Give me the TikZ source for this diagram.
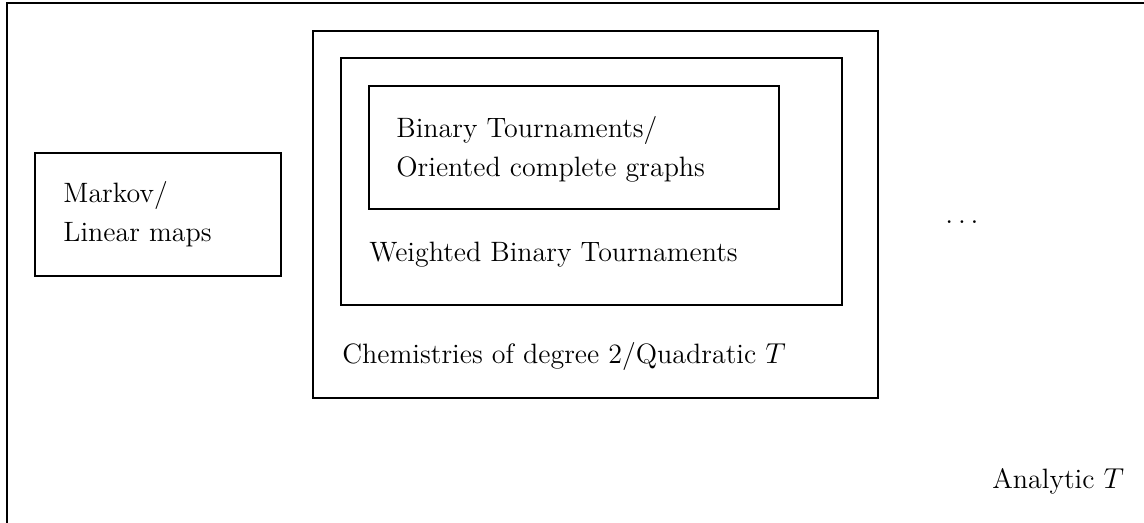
\documentclass[tikz,border=0pt]{standalone}
\usepackage{amsmath}
\usepackage{tikz}
\usetikzlibrary{calc}

\newcommand{\diagfont}{\fontsize{14}{19.5}\selectfont}

\begin{document}
\begin{tikzpicture}[x=0.5pt,y=-0.5pt]
        \tikzstyle{box}=[draw,line width=0.6pt]
        \tikzstyle{every node}=[inner sep=0pt,anchor=base west,align=left,font=\diagfont]
            \useasboundingbox (0,0) rectangle (1144,523);
            \clip (0,0) rectangle (1144,523);

            % corners of the nested boxes
            \coordinate (O1) at (7,3);
            \coordinate (O2) at (1200,600);
            \coordinate (M1) at (35,153);
            \coordinate (M2) at ($(M1)+(246,123)$);
            \coordinate (C1) at (313,31);
            \coordinate (C2) at ($(C1)+(565,367)$);
            \coordinate (W1) at ($(C1)+(28,27)$);
            \coordinate (W2) at ($(C2)+(-36,-93)$);
            \coordinate (B1) at ($(W1)+(28,28)$);
            \coordinate (B2) at ($(W2)+(-63,-96)$);

            \draw[box] (O1) rectangle (O2);
            \draw[box] (M1) rectangle (M2);
            \draw[box] (C1) rectangle (C2);
            \draw[box] (W1) rectangle (W2);
            \draw[box] (B1) rectangle (B2);

            % base anchor of a two-line node is its last line
            \node (markov) at ($(M1)+(28,89)$) {Markov/\\Linear maps};
            \node (binary) at ($(B1)+(27,91)$) {Binary Tournaments/\\Oriented complete graphs};
            \node (weighted) at ($(W1)+(28,204)$) {Weighted Binary Tournaments};
            \node (chem) at ($(C1)+(29,332)$) {Chemistries of degree 2/Quadratic $T$};
            \node (dots) at (945,224) {$\dots$};
            \node (analytic) at (992,488) {Analytic $T$};

        \end{tikzpicture}
\end{document}
